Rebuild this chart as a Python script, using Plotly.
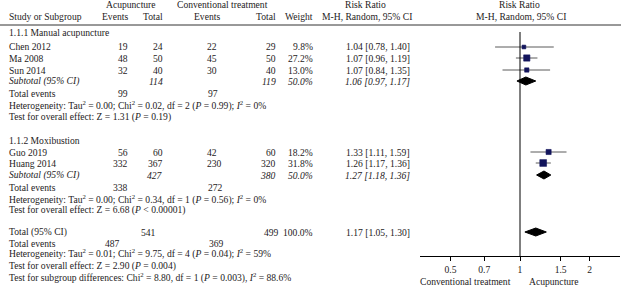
import math
import plotly.graph_objects as go

# ---------------- data ----------------
studies = ["Chen 2012", "Ma 2008", "Sun 2014", "Guo 2019", "Huang 2014"]
acu_events = [19, 48, 32, 56, 332]
acu_total = [24, 50, 40, 60, 367]
con_events = [22, 45, 30, 42, 230]
con_total = [29, 50, 40, 60, 320]
weights = [9.8, 27.2, 13.0, 18.2, 31.8]
rr = [1.04, 1.07, 1.07, 1.33, 1.26]
rr_lo = [0.78, 0.96, 0.84, 1.11, 1.17]
rr_hi = [1.40, 1.19, 1.35, 1.59, 1.36]

groups = ["1.1.1 Manual acupuncture", "1.1.2 Moxibustion"]
sub_acu_total = [114, 427]
sub_con_total = [119, 380]
sub_weight = [50.0, 50.0]
sub_rr = [1.06, 1.27]
sub_lo = [0.97, 1.18]
sub_hi = [1.17, 1.36]
sub_acu_events = [99, 338]
sub_con_events = [97, 272]
sub_het = ["Heterogeneity: Tau<sup>2</sup> = 0.00; Chi<sup>2</sup> = 0.02, df = 2 (<i>P</i> = 0.99); <i>I</i><sup>2</sup> = 0%",
           "Heterogeneity: Tau<sup>2</sup> = 0.00; Chi<sup>2</sup> = 0.34, df = 1 (<i>P</i> = 0.56); <i>I</i><sup>2</sup> = 0%"]
sub_test = ["Test for overall effect: Z = 1.31 (<i>P</i> = 0.19)",
            "Test for overall effect: Z = 6.68 (<i>P</i> < 0.00001)"]

tot_acu_total = 541
tot_con_total = 499
tot_weight = 100.0
tot_rr, tot_lo, tot_hi = 1.17, 1.05, 1.30
tot_acu_events = 487
tot_con_events = 369
tot_het = "Heterogeneity: Tau<sup>2</sup> = 0.01; Chi<sup>2</sup> = 9.75, df = 4 (<i>P</i> = 0.04); <i>I</i><sup>2</sup> = 59%"
tot_test = "Test for overall effect: Z = 2.90 (<i>P</i> = 0.004)"
subgroup_test = "Test for subgroup differences: Chi<sup>2</sup> = 8.80, df = 1 (<i>P</i> = 0.003), <i>I</i><sup>2</sup> = 88.6%"

tick_vals = [0.5, 0.7, 1, 1.5, 2]
tick_text = ["0.5", "0.7", "1", "1.5", "2"]
favours_left = "Conventional treatment"
favours_right = "Acupuncture"

# ---------------- layout (pixel rows) ----------------
W, H = 621, 287
study_rows = [47, 58, 70, 152, 163]
group_rows = [33, 140]
sub_rows = [81, 175]
sub_events_rows = [94, 188]
sub_het_rows = [105, 199]
sub_test_rows = [117, 210]
tot_row, tot_events_row, tot_het_row, tot_test_row, sg_row = 232, 243, 254, 266, 277

FONT = "Liberation Serif, Times New Roman, serif"
FS = 9.6
TXT = "#1e1b1c"

annotations = []


def py(y):
    return 1 - y / H


def ann(text, x, y, anchor="left", italic=False, size=FS):
    if italic:
        text = "<i>" + text + "</i>"
    annotations.append(dict(text=text, x=x / W, y=py(y), xref="paper", yref="paper",
                            xanchor=anchor, yanchor="middle", showarrow=False,
                            font=dict(family=FONT, size=size, color=TXT)))


def rrtxt(e, lo, hi):
    return f"{e:.2f} [{lo:.2f}, {hi:.2f}]"


# headers
ann("Acupuncture", 131, 5, "center")
ann("Conventional treatment", 222, 5, "center")
ann("Risk Ratio", 366, 5, "center")
ann("Risk Ratio", 519, 5, "center")
ann("Study or Subgroup", 7, 17)
ann("Events", 130, 17, "right")
ann("Total", 165, 17, "right")
ann("Events", 222, 17, "right")
ann("Total", 278, 17, "right")
ann("Weight", 315, 17, "right")
ann("M-H, Random, 95% CI", 367, 17, "center")
ann("M-H, Random, 95% CI", 521, 17, "center")

# study rows
for i, s in enumerate(studies):
    y = study_rows[i]
    ann(s, 7, y)
    ann(str(acu_events[i]), 130, y, "right")
    ann(str(acu_total[i]), 165, y, "right")
    ann(str(con_events[i]), 205, y, "left")
    ann(str(con_total[i]), 278, y, "right")
    ann(f"{weights[i]:.1f}%", 315, y, "right")
    ann(rrtxt(rr[i], rr_lo[i], rr_hi[i]), 412, y, "right")

for g in range(2):
    ann(groups[g], 7, group_rows[g])
    y = sub_rows[g]
    ann("Subtotal (95% CI)", 7, y, italic=True)
    ann(str(sub_acu_total[g]), 165, y, "right", italic=True)
    ann(str(sub_con_total[g]), 278, y, "right", italic=True)
    ann(f"{sub_weight[g]:.1f}%", 315, y, "right", italic=True)
    ann(rrtxt(sub_rr[g], sub_lo[g], sub_hi[g]), 412, y, "right", italic=True)
    y = sub_events_rows[g]
    ann("Total events", 7, y)
    ann(str(sub_acu_events[g]), 130, y, "right")
    ann(str(sub_con_events[g]), 206, y, "left")
    ann(sub_het[g], 7, sub_het_rows[g])
    ann(sub_test[g], 7, sub_test_rows[g])

ann("Total (95% CI)", 7, tot_row)
ann(str(tot_acu_total), 158, tot_row, "right")
ann(str(tot_con_total), 281, tot_row, "right")
ann(f"{tot_weight:.1f}%", 315, tot_row, "right")
ann(rrtxt(tot_rr, tot_lo, tot_hi), 412, tot_row, "right")
ann("Total events", 7, tot_events_row)
ann(str(tot_acu_events), 122, tot_events_row, "right")
ann(str(tot_con_events), 207, tot_events_row, "left")
ann(tot_het, 7, tot_het_row)
ann(tot_test, 7, tot_test_row)
ann(subgroup_test, 7, sg_row)

ann(favours_left, 513, 281, "right")
ann(favours_right, 527, 281, "left")

# ---------------- traces ----------------
fig = go.Figure()

# CI lines
cx, cy = [], []
for i in range(len(studies)):
    cx += [rr_lo[i], rr_hi[i], None]
    cy += [study_rows[i], study_rows[i], None]
fig.add_trace(go.Scatter(x=cx, y=cy, mode="lines", line=dict(color="#5a5a5a", width=1),
                         hoverinfo="skip"))

# squares
fig.add_trace(go.Scatter(x=rr, y=study_rows, mode="markers", hoverinfo="skip",
                         marker=dict(symbol="square", color="#12145c", opacity=1,
                                     size=[1.2 * math.sqrt(w) for w in weights],
                                     line=dict(width=0.6, color="#12145c"))))

# diamonds
dh = 4
for e, lo, hi, y in list(zip(sub_rr, sub_lo, sub_hi, sub_rows)) + [(tot_rr, tot_lo, tot_hi, tot_row)]:
    fig.add_trace(go.Scatter(x=[lo, e, hi, e, lo], y=[y, y - dh, y, y + dh, y],
                             mode="lines", fill="toself", fillcolor="#000000",
                             line=dict(color="#000000", width=1), hoverinfo="skip"))

shapes = [
    dict(type="line", xref="paper", yref="paper", x0=0, x1=1, y0=py(25), y1=py(25),
         line=dict(color="#333333", width=1)),
    dict(type="line", xref="x", yref="y", x0=1, x1=1, y0=32, y1=256,
         line=dict(color="#000000", width=1)),
]

fig.update_layout(
    width=W, height=H, margin=dict(l=0, r=0, t=0, b=0),
    paper_bgcolor="white", plot_bgcolor="white", showlegend=False,
    annotations=annotations, shapes=shapes, hovermode=False,
    xaxis=dict(type="log", domain=[420 / W, 620 / W],
               range=[math.log10(0.369), math.log10(2.71)],
               showline=True, linecolor="#000000", linewidth=1,
               ticks="outside", ticklen=4, tickcolor="#000000", tickwidth=1,
               tickvals=tick_vals, ticktext=tick_text, showgrid=False, zeroline=False,
               tickfont=dict(family=FONT, size=FS, color=TXT), anchor="y"),
    yaxis=dict(domain=[1 - 256 / H, 1], range=[256, 0], visible=False,
               showgrid=False, zeroline=False),
)

fig.write_html("out.html", config={"displayModeBar": False},
               post_script="document.body.style.margin='0';document.body.style.overflow='hidden';")
